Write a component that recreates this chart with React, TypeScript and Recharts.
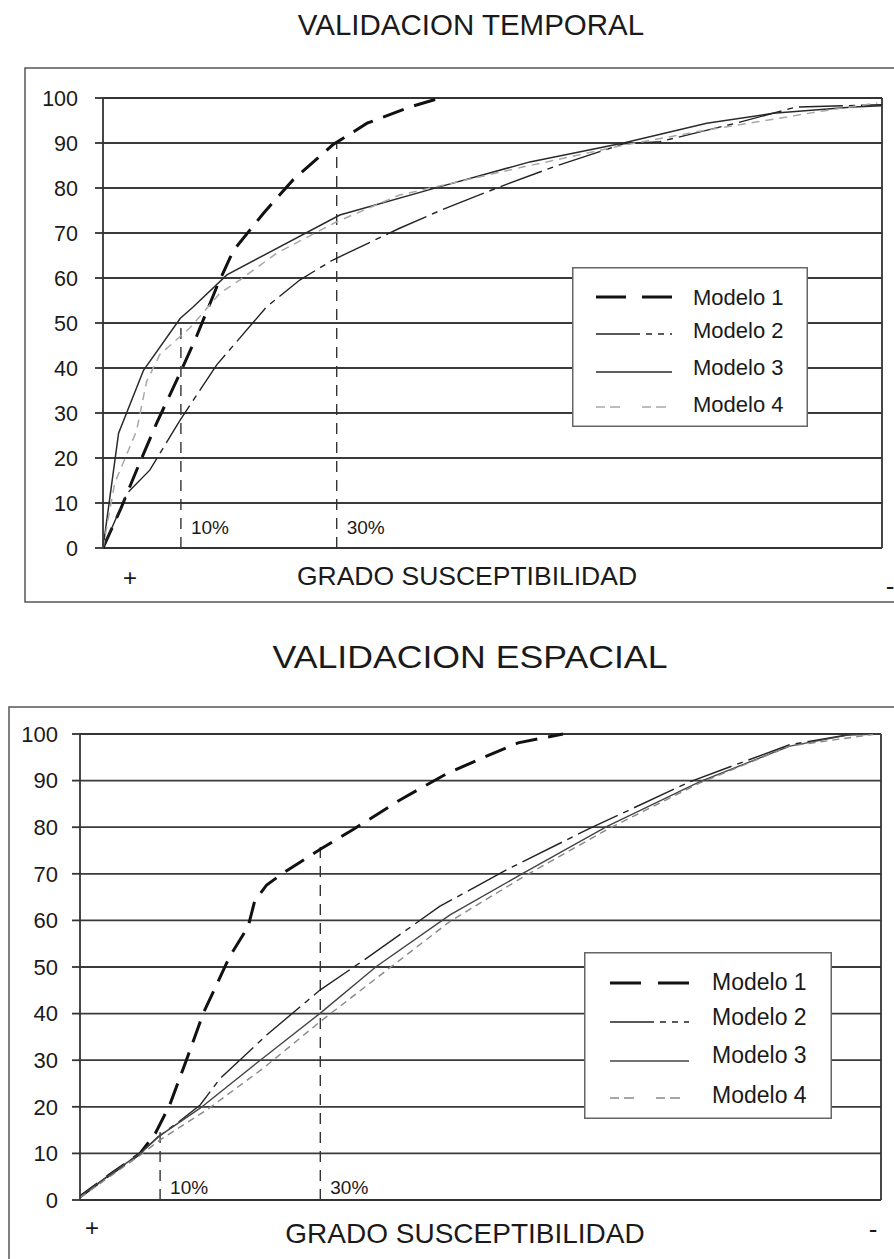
import React from "react";
import { LineChart, Line, XAxis, YAxis, CartesianGrid, ReferenceLine, ReferenceDot, Legend } from "recharts";

type Pt = [number, number];

const FONT = '"Liberation Sans", Arial, Helvetica, sans-serif';

const yTicks = [0, 10, 20, 30, 40, 50, 60, 70, 80, 90, 100];
const modelNames = ["Modelo 1", "Modelo 2", "Modelo 3", "Modelo 4"];
const markers = [10, 30];
const markerLabels = ["10%", "30%"];

// validacion temporal (x = % area, y = % deslizamientos)
const temporalModelo1: Pt[] = [[0, 0], [2.2, 8.4], [4.7, 18.9], [6.9, 27.8], [9.9, 38.9], [12, 47], [14.6, 58], [16.7, 66], [20.6, 74.4], [24.4, 81.8], [29.5, 89.6], [33.9, 94.4], [39.4, 98], [43.3, 100]];
const temporalModelo2: Pt[] = [[0, 0], [3.1, 12.2], [6, 17.3], [9.9, 28.4], [14.6, 40.7], [21, 53.6], [25.3, 59.6], [29.5, 64], [38, 71], [43.3, 75], [51, 80.3], [58, 84.8], [66.8, 89.8], [71.5, 90.3], [81, 94.3], [89, 98], [100, 98.5]];
const temporalModelo3: Pt[] = [[0, 0], [2, 25.5], [5.2, 39.5], [9.9, 51], [11.6, 53.6], [15.9, 60.7], [30.4, 74], [43.3, 80.3], [54.8, 85.8], [66.8, 90], [77.5, 94.4], [86, 96.6], [96.3, 98], [100, 98.3]];
const temporalModelo4: Pt[] = [[0, 0], [1.5, 14.4], [4.3, 26], [5.6, 37], [7.3, 43], [11.2, 49], [15, 56.6], [17.6, 59.6], [22.3, 65.5], [30, 72.5], [38, 78.4], [54, 84.7], [66.8, 89.5], [77.5, 92.9], [84, 94.7], [92, 97], [99.4, 98.9]];

// validacion espacial
const espacialModelo1: Pt[] = [[0, 0.7], [3.7, 5.4], [7.5, 10], [9.4, 14.3], [11.2, 20.4], [13.3, 30.1], [15.4, 40.1], [18.7, 52.3], [21, 58.7], [21.8, 64.1], [23.3, 67.6], [25.4, 70.2], [30.2, 75.5], [34.1, 79.5], [40, 85.9], [45.8, 91.5], [51.2, 95.6], [54.7, 98.1], [60.3, 100]];
const espacialModelo2: Pt[] = [[0, 0.7], [3.7, 5.4], [7.5, 10], [9.8, 13.6], [12.5, 17], [15, 20.4], [17.5, 26.1], [23.3, 35.4], [30, 45.1], [35.8, 51.9], [44.9, 63], [53.3, 70.9], [63.7, 79.8], [76.2, 89.8], [88.6, 97.7], [96.1, 99.9], [100, 100]];
const espacialModelo3: Pt[] = [[0, 0.7], [3.7, 5.4], [7.5, 10], [9.8, 13.6], [15, 19.7], [22.5, 30], [30, 40.1], [37, 50.1], [46.2, 61.2], [55.4, 70.2], [65.8, 80.2], [77.4, 89.8], [88.6, 97.4], [96, 99.8], [100, 100]];
const espacialModelo4: Pt[] = [[0, 0.5], [3.7, 5], [7.5, 9.6], [10, 12.9], [15.8, 19.3], [22.9, 28.3], [30, 38.3], [37, 47.6], [46.2, 59.8], [55.4, 69.4], [65.8, 79.5], [77.4, 89.5], [88.6, 97.4], [99, 99.9]];

type Style = { stroke: string; width: number; dash?: string; legendDash?: string };

const temporalStyles: Style[] = [
  { stroke: "#111", width: 3, dash: "22 11", legendDash: "30 16" },
  { stroke: "#222", width: 1.4, dash: "44 6 6 6", legendDash: "44 6 6 6 6 6" },
  { stroke: "#2a2a2a", width: 1.5 },
  { stroke: "#a8a8a8", width: 1.5, dash: "8 6", legendDash: "9 5 10 22" },
];
const espacialStyles: Style[] = [
  { stroke: "#111", width: 3, dash: "22 11", legendDash: "31 17" },
  { stroke: "#222", width: 1.4, dash: "44 6 6 6", legendDash: "44 6 6 6 6 6" },
  { stroke: "#444", width: 1.4 },
  { stroke: "#888", width: 1.4, dash: "7 5", legendDash: "9 5 10 22" },
];

const toRows = (pts: Pt[]) => pts.map(([x, y]) => ({ x, y }));

type LegendCfg = { left: number; top: number; w: number; h: number; lineX: [number, number]; textX: number; lineY: number[]; textY: number[]; fontSize: number };

function LegendBox({ cfg, styles }: { cfg: LegendCfg; styles: Style[] }) {
  return (
    <svg width={cfg.w} height={cfg.h} style={{ display: "block" }}>
      <rect x={0.75} y={0.75} width={cfg.w - 1.5} height={cfg.h - 1.5} fill="#fff" stroke="#666" strokeWidth={1.5} />
      {modelNames.map((name, i) => (
        <g key={name}>
          <line x1={cfg.lineX[0]} x2={cfg.lineX[1]} y1={cfg.lineY[i]} y2={cfg.lineY[i]} stroke={styles[i].stroke} strokeWidth={styles[i].width} strokeDasharray={styles[i].legendDash} />
          <text x={cfg.textX} y={cfg.textY[i]} dy="0.35em" fontSize={cfg.fontSize} fill="#1a1a1a" fontFamily={FONT}>{name}</text>
        </g>
      ))}
    </svg>
  );
}

type ChartProps = {
  top: number;
  height: number;
  margin: { top: number; right: number; bottom: number; left: number };
  yAxisWidth: number;
  tickMargin: number;
  tickFont: number;
  series: Pt[][];
  styles: Style[];
  markerTops: number[];
  labelY: number;
  legend: LegendCfg;
};

function CurveChart(p: ChartProps) {
  return (
    <div style={{ position: "absolute", left: 0, top: p.top }}>
      <LineChart width={894} height={p.height} margin={p.margin}>
        <CartesianGrid vertical={false} stroke="#3a3a3a" strokeWidth={1.8} />
        <XAxis type="number" dataKey="x" domain={[0, 100]} hide allowDataOverflow />
        <YAxis
          type="number"
          domain={[0, 100]}
          ticks={yTicks}
          interval={0}
          width={p.yAxisWidth}
          tickSize={8}
          tickMargin={p.tickMargin}
          axisLine={{ stroke: "#333", strokeWidth: 1.8 }}
          tickLine={{ stroke: "#333", strokeWidth: 1.8 }}
          tick={{ fontSize: p.tickFont, fill: "#1a1a1a", fontFamily: FONT }}
        />
        <ReferenceLine x={100} stroke="#333" strokeWidth={1.8} />
        <ReferenceLine y={0} stroke="#333" strokeWidth={1.8} />
        <ReferenceLine y={100} stroke="#333" strokeWidth={1.8} />
        {markers.map((m, i) => (
          <ReferenceLine key={m} segment={[{ x: m, y: 0 }, { x: m, y: p.markerTops[i] }]} stroke="#333" strokeWidth={1.4} strokeDasharray="11 8" />
        ))}
        {markers.map((m, i) => (
          <ReferenceDot key={"l" + m} x={m} y={p.labelY} r={0} fill="none" stroke="none"
            label={{ value: markerLabels[i], position: "right", offset: 10, fontSize: 19, fill: "#1a1a1a", fontFamily: FONT }} />
        ))}
        {p.series.map((s, i) => (
          <Line
            key={modelNames[i]}
            name={modelNames[i]}
            data={toRows(s)}
            dataKey="y"
            type="linear"
            stroke={p.styles[i].stroke}
            strokeWidth={p.styles[i].width}
            strokeDasharray={p.styles[i].dash}
            dot={false}
            activeDot={false}
            isAnimationActive={false}
          />
        ))}
        <Legend
          layout="vertical"
          align="center"
          verticalAlign="middle"
          wrapperStyle={{ left: p.legend.left, top: p.legend.top, width: p.legend.w, height: p.legend.h }}
          content={() => <LegendBox cfg={p.legend} styles={p.styles} />}
        />
      </LineChart>
    </div>
  );
}

export default function App() {
  return (
    <div style={{ position: "absolute", left: 0, top: 0, width: 894, height: 1259, background: "#fff", overflow: "hidden", fontFamily: FONT }}>
      <svg width={894} height={1259} style={{ position: "absolute", left: 0, top: 0 }}>
        <text x={471} y={35} textAnchor="middle" fontSize={29.5} fill="#1a1a1a" fontFamily={FONT}>VALIDACION TEMPORAL</text>
        <rect x={25} y={68} width={900} height={534} fill="none" stroke="#555" strokeWidth={1.5} />
        <text x={130} y={586} textAnchor="middle" fontSize={24} fill="#1a1a1a" fontFamily={FONT}>+</text>
        <text x={467} y={585} textAnchor="middle" fontSize={26.5} fill="#1a1a1a" fontFamily={FONT}>GRADO SUSCEPTIBILIDAD</text>
        <text x={890} y={595} textAnchor="middle" fontSize={26} fill="#1a1a1a" fontFamily={FONT}>-</text>

        <text x={470} y={668} textAnchor="middle" fontSize={31} textLength={395} lengthAdjust="spacingAndGlyphs" fill="#1a1a1a" fontFamily={FONT}>VALIDACION ESPACIAL</text>
        <rect x={9} y={707} width={920} height={600} fill="none" stroke="#555" strokeWidth={1.5} />
        <text x={92} y={1236} textAnchor="middle" fontSize={24} fill="#1a1a1a" fontFamily={FONT}>+</text>
        <text x={465} y={1243} textAnchor="middle" fontSize={28} fill="#1a1a1a" fontFamily={FONT}>GRADO SUSCEPTIBILIDAD</text>
        <text x={873} y={1238} textAnchor="middle" fontSize={26} fill="#1a1a1a" fontFamily={FONT}>-</text>
      </svg>

      <CurveChart
        top={0}
        height={610}
        margin={{ top: 98, right: 12, bottom: 62, left: 0 }}
        yAxisWidth={103}
        tickMargin={17}
        tickFont={21.5}
        series={[temporalModelo1, temporalModelo2, temporalModelo3, temporalModelo4]}
        styles={temporalStyles}
        markerTops={[50, 90]}
        labelY={4.7}
        legend={{ left: 572, top: 267, w: 236, h: 160, lineX: [24, 100], textX: 121, lineY: [30, 67, 105, 140], textY: [30, 63, 100, 137], fontSize: 22 }}
      />
      <CurveChart
        top={700}
        height={559}
        margin={{ top: 34, right: 13, bottom: 59, left: 0 }}
        yAxisWidth={80}
        tickMargin={14}
        tickFont={22}
        series={[espacialModelo1, espacialModelo2, espacialModelo3, espacialModelo4]}
        styles={espacialStyles}
        markerTops={[15, 76]}
        labelY={2.8}
        legend={{ left: 584, top: 252, w: 248, h: 167, lineX: [26, 105], textX: 128, lineY: [31, 70, 109, 146], textY: [30, 65, 103, 143], fontSize: 23 }}
      />
    </div>
  );
}
